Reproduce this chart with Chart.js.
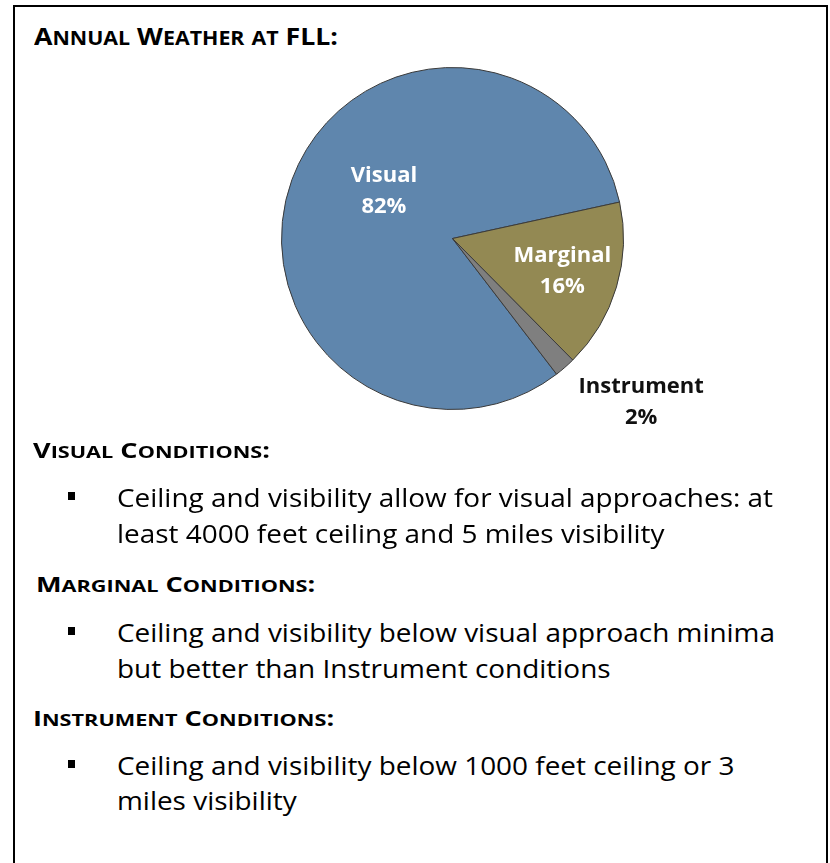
<!DOCTYPE html>
<html>
<head>
<meta charset="utf-8">
<script src="https://cdn.jsdelivr.net/npm/chart.js@4.4.1/dist/chart.umd.min.js"></script>
<style>
  body { margin: 0; background: #fff; width: 830px; height: 863px; overflow: hidden; position: relative; font-family: "Open Sans", Lato, sans-serif; color: #000; }
  #frame { position: absolute; left: 13px; top: 5px; width: 811px; height: 900px; border: 2px solid #000; border-bottom: none; }
  #pieWrap { position: absolute; left: 0; top: 0; width: 830px; height: 440px; }
  .head { position: absolute; font-weight: bold; font-size: 21px; line-height: 28px; white-space: nowrap; transform-origin: 0 0; }
  .head .sc { font-size: 0.8em; line-height: 0; }
  .line { position: absolute; left: 117px; font-size: 26px; line-height: 36px; white-space: nowrap; transform-origin: 0 0; }
  .bullet { position: absolute; left: 68px; width: 7px; height: 8px; background: #000; }
</style>
</head>
<body>
<div id="frame"></div>
<div class="head" id="title" style="left:34px; top:21px; font-size:24px; line-height:30px;">Annual Weather at FLL:</div>
<div id="pieWrap"><canvas id="pie"></canvas></div>

<div class="head" id="h1" style="left:33px; top:436px;">Visual Conditions:</div>
<div class="bullet" style="top:492px;"></div>
<div class="line" id="l1" style="top:479px;">Ceiling and visibility allow for visual approaches: at</div>
<div class="line" style="top:515px;">least 4000 feet ceiling and 5 miles visibility</div>

<div class="head" style="left:36px; top:570px;">Marginal Conditions:</div>
<div class="bullet" style="top:627px;"></div>
<div class="line" style="top:614px;">Ceiling and visibility below visual approach minima</div>
<div class="line" style="top:650px;">but better than Instrument conditions</div>

<div class="head" style="left:33px; top:704px;">Instrument Conditions:</div>
<div class="bullet" style="top:760px;"></div>
<div class="line" style="top:747px;">Ceiling and visibility below 1000 feet ceiling or 3</div>
<div class="line" style="top:782px;">miles visibility</div>

<script>
// annual share of flight conditions at FLL, percent
const categories = ["Visual", "Marginal", "Instrument"];
const shares = [82, 16, 2];
const sliceColors = ["#5F86AD", "#938953", "#7F7F7F"];

// label placement relative to each slice: radius fraction, angle nudge (deg), text colour
const labelRadius = [0.49, 0.67, 1.46];
const labelTurn = [15, 0, -8];
const labelColors = ["#fff", "#fff", "#111"];

// small caps the way the slide does them: lower case letters become smaller capitals
document.querySelectorAll(".head").forEach(el => {
    el.innerHTML = el.textContent.replace(/[a-z]+/g, m => '<span class="sc">' + m.toUpperCase() + '</span>');
});

// squeeze/stretch the substitute fonts to the widths of the original text
function widthOf(el) {
    const r = document.createRange();
    r.selectNodeContents(el);
    return r.getBoundingClientRect().width;
}
const bodyScale = 656 / widthOf(document.getElementById("l1"));
document.querySelectorAll(".line").forEach(el => el.style.transform = "scaleX(" + bodyScale + ")");
const headScale = 237 / widthOf(document.getElementById("h1"));
document.querySelectorAll(".head").forEach(el => {
    if (el.id !== "title") el.style.transform = "scaleX(" + headScale + ")";
});
const title = document.getElementById("title");
title.style.transform = "scaleX(" + (304 / widthOf(title)) + ")";

const sliceLabels = {
    id: "sliceLabels",
    afterDatasetsDraw(chart) {
        const ctx = chart.ctx;
        const arcs = chart.getDatasetMeta(0).data;
        ctx.save();
        ctx.font = "bold 22px 'Open Sans', Lato, sans-serif";
        ctx.textAlign = "center";
        ctx.textBaseline = "middle";
        arcs.forEach((arc, i) => {
            const p = arc.getProps(["x", "y", "startAngle", "endAngle", "outerRadius"], true);
            const mid = (p.startAngle + p.endAngle) / 2 + labelTurn[i] * Math.PI / 180;
            const r = p.outerRadius * labelRadius[i];
            const cx = p.x + Math.cos(mid) * r;
            const cy = p.y + Math.sin(mid) * r;
            ctx.fillStyle = labelColors[i];
            ctx.fillText(categories[i], cx, cy - 15);
            ctx.fillText(shares[i] + "%", cx, cy + 16);
        });
        ctx.restore();
    }
};

new Chart(document.getElementById("pie"), {
    type: "pie",
    data: {
        labels: categories,
        datasets: [{
            data: shares,
            backgroundColor: sliceColors,
            borderColor: "#3a3a3a",
            borderWidth: 1
        }]
    },
    options: {
        responsive: true,
        maintainAspectRatio: false,
        animation: false,
        rotation: 142.5,
        layout: { padding: { left: 281, right: 206, top: 67, bottom: 30 } },
        plugins: {
            legend: { display: false },
            tooltip: { enabled: false }
        }
    },
    plugins: [sliceLabels]
});
</script>
</body>
</html>
